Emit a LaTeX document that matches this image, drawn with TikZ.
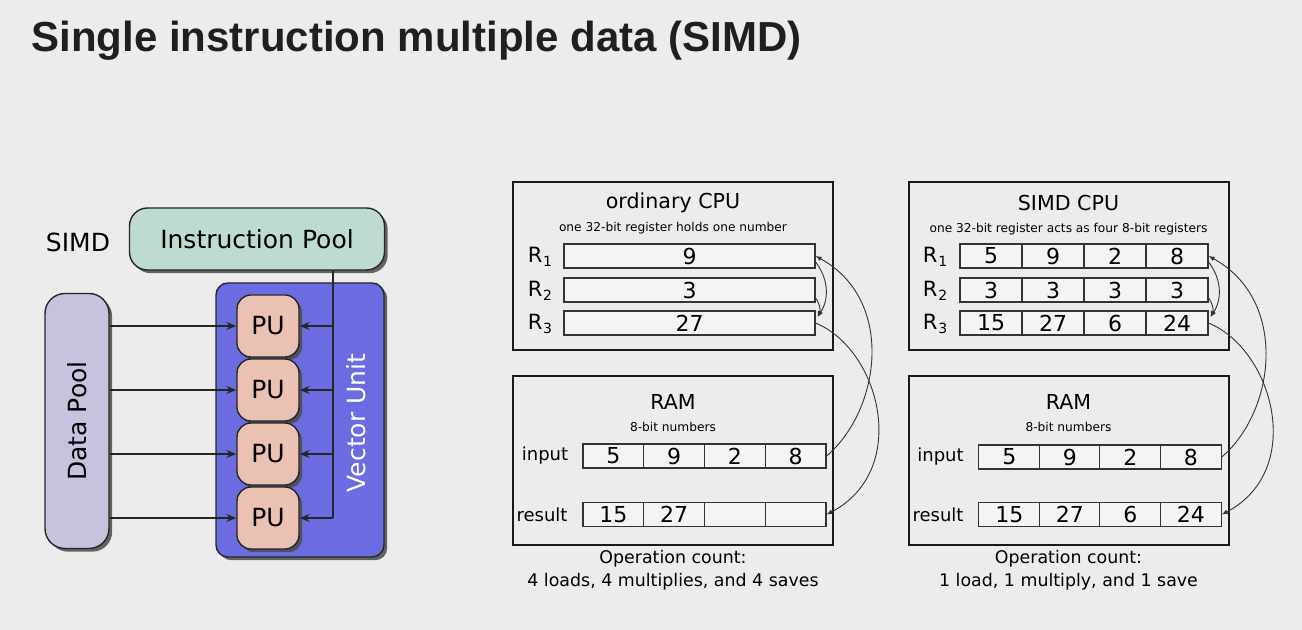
\documentclass[tikz,border=0pt]{standalone}
\usepackage{fontspec}
\setmainfont{DejaVu Sans}
\newfontfamily\headfont{Liberation Sans}
\usetikzlibrary{arrows.meta,shadows}

\definecolor{slidebg}{RGB}{236,236,236}
\definecolor{poolgreen}{RGB}{189,219,208}
\definecolor{unitblue}{RGB}{108,108,226}
\definecolor{datalilac}{RGB}{201,194,222}
\definecolor{pusalmon}{RGB}{234,193,178}

\newcommand{\regidx}[1]{\kern0.4pt\raisebox{-2.2pt}{\fontsize{7}{7}\selectfont #1}}

\tikzset{
  headline/.style={font=\headfont\bfseries\fontsize{21}{25}\selectfont, text=black!88, inner sep=0pt},
  bigtext/.style={font=\fontsize{12.5}{15}\selectfont},
  boxshadow/.style={drop shadow={shadow xshift=1.6pt, shadow yshift=-1.6pt, fill=black!70, opacity=0.85}},
  ipoolbox/.style={draw=black!85, line width=0.7pt, fill=poolgreen, rounded corners=9pt, boxshadow,
    minimum width=127.5pt, minimum height=31pt, inner sep=0pt, bigtext},
  databox/.style={draw=black!85, line width=0.7pt, fill=datalilac, rounded corners=10pt, boxshadow,
    minimum width=32pt, minimum height=127.5pt, inner sep=0pt},
  unitbox/.style={draw=black!85, line width=0.7pt, fill=unitblue, rounded corners=6pt, boxshadow,
    minimum width=84pt, minimum height=137pt, inner sep=0pt},
  pubox/.style={draw=black!85, line width=0.7pt, fill=pusalmon, rounded corners=7pt, boxshadow,
    minimum width=31pt, minimum height=31pt, inner sep=0pt, bigtext},
  wire/.style={draw=black!85, line width=0.6pt},
  dataarr/.style={-{Stealth[length=5pt,width=4pt]}},
  % right half
  cpubox/.style={draw=black!90, line width=1pt, minimum width=160pt, minimum height=84pt, inner sep=0pt},
  cputitle/.style={font=\fontsize{10.3}{12}\selectfont},
  tinytext/.style={font=\fontsize{6.1}{7}\selectfont},
  reglab/.style={font=\fontsize{10.5}{12}\selectfont},
  memlab/.style={font=\fontsize{9}{11}\selectfont},
  optext/.style={font=\fontsize{8.7}{11.5}\selectfont, align=center},
  cell/.style={draw=black!80, line width=0.6pt, fill=white!40!slidebg, minimum height=12pt,
    inner sep=0pt, font=\fontsize{11}{12}\selectfont},
  wreg/.style={cell, minimum width=125.5pt},
  scell/.style={cell, minimum width=31pt},
  mcell/.style={cell, minimum width=30.4pt},
  thinarr/.style={draw=black!80, line width=0.45pt, -{Latex[length=3pt,width=2.4pt]}},
}

\begin{document}
\begin{tikzpicture}[x=0.5pt, y=-0.5pt]

% slide background, gives the page its size
\path[use as bounding box, fill=slidebg] (0,0) rectangle (1302,630);

\node[headline, anchor=base west] (title) at (31,52) {Single instruction multiple data (SIMD)};

% ---- left: SIMD block diagram ----
\node[bigtext] (simdlab) at (78,242) {SIMD};
\node[ipoolbox] (ipool) at (257,239) {Instruction Pool};

\node[databox] (dpool) at (77,421) {};
\node[bigtext, rotate=90] (dlab) at (dpool) {Data Pool};

\node[unitbox] (vunit) at (300,420) {};
\node[bigtext, rotate=90, text=white] (vlab) at (356,423) {Vector Unit};

\node[pubox] (pu1) at (268,326) {PU};
\node[pubox] (pu2) at (268,390) {PU};
\node[pubox] (pu3) at (268,454) {PU};
\node[pubox] (pu4) at (268,518) {PU};

% instruction bus
\coordinate (busend) at (333,518);
\draw[wire] (ipool.south -| busend) -- (busend);
\draw[wire, dataarr] (pu1.east -| busend) -- (pu1.east);
\draw[wire, dataarr] (pu2.east -| busend) -- (pu2.east);
\draw[wire, dataarr] (pu3.east -| busend) -- (pu3.east);
\draw[wire, dataarr] (pu4.east -| busend) -- (pu4.east);

% data lines
\draw[wire, dataarr] (pu1.west -| dpool.east) -- (pu1.west);
\draw[wire, dataarr] (pu2.west -| dpool.east) -- (pu2.west);
\draw[wire, dataarr] (pu3.west -| dpool.east) -- (pu3.west);
\draw[wire, dataarr] (pu4.west -| dpool.east) -- (pu4.west);

% ---- ordinary CPU ----
\node[cpubox] (cpu) at (673,266) {};
\node[cputitle] (cputxt) at (673,203) {ordinary CPU};
\node[tinytext] (cpusub) at (673,228) {one 32-bit register holds one number};

\node[reglab] (r1lab) at (540,257) {R\regidx{1}};
\node[reglab] (r2lab) at (540,291) {R\regidx{2}};
\node[reglab] (r3lab) at (540,324) {R\regidx{3}};
\node[wreg] (r1) at (689.5,256) {9};
\node[wreg] (r2) at (689.5,290) {3};
\node[wreg] (r3) at (689.5,323) {27};

\draw[thinarr] ([yshift=-3pt]r1.east) to[bend left=35] ([xshift=1pt,yshift=3pt]r3.east);
\draw[thinarr] ([yshift=-4pt]r2.east) to[bend left=30] ([xshift=1pt,yshift=3pt]r3.east);

\node[cpubox, minimum height=84.5pt] (ram) at (673,460.5) {};
\node[cputitle] (ramtxt) at (673,402) {RAM};
\node[tinytext] (ramsub) at (673,427) {8-bit numbers};

\node[memlab] (inlab) at (545,456) {input};
\node[mcell] (in1) at (613.4,456) {5};
\node[mcell] (in2) at (674.1,456) {9};
\node[mcell] (in3) at (734.9,456) {2};
\node[mcell] (in4) at (795.6,456) {8};

\node[memlab] (reslab) at (542,514.5) {result};
\node[mcell] (res1) at (613.4,514.5) {15};
\node[mcell] (res2) at (674.1,514.5) {27};
\node[mcell] (res3) at (734.9,514.5) {};
\node[mcell] (res4) at (795.6,514.5) {};

\draw[thinarr] (in4.east) .. controls +(54,-46) and +(80,44) .. (r1.east);
\draw[thinarr] (r3.east) .. controls +(65,27) and +(84,-44) .. (res4.east);

\node[optext] (ops) at (673,570.5) {Operation count:\\4 loads, 4 multiplies, and 4 saves};

% ---- SIMD CPU ----
\node[cpubox] (scpu) at (1068.5,266) {};
\node[cputitle] (scputxt) at (1068.5,203) {SIMD CPU};
\node[tinytext] (scpusub) at (1068.5,229) {one 32-bit register acts as four 8-bit registers};

\node[reglab] (sr1lab) at (935,257) {R\regidx{1}};
\node[reglab] (sr2lab) at (935,291) {R\regidx{2}};
\node[reglab] (sr3lab) at (935,324) {R\regidx{3}};

\node[scell] (sr1a) at (991,256) {5};
\node[scell] (sr1b) at (1053,256) {9};
\node[scell] (sr1c) at (1115,256) {2};
\node[scell] (sr1) at (1177,256) {8};

\node[scell] (sr2a) at (991,290) {3};
\node[scell] (sr2b) at (1053,290) {3};
\node[scell] (sr2c) at (1115,290) {3};
\node[scell] (sr2) at (1177,290) {3};

\node[scell] (sr3a) at (991,323) {15};
\node[scell] (sr3b) at (1053,323) {27};
\node[scell] (sr3c) at (1115,323) {6};
\node[scell] (sr3) at (1177,323) {24};

\draw[thinarr] ([yshift=-3pt]sr1.east) to[bend left=35] ([xshift=1pt,yshift=3pt]sr3.east);
\draw[thinarr] ([yshift=-4pt]sr2.east) to[bend left=30] ([xshift=1pt,yshift=3pt]sr3.east);

\node[cpubox, minimum height=84.5pt] (sram) at (1068.5,460.5) {};
\node[cputitle] (sramtxt) at (1068.5,402) {RAM};
\node[tinytext] (sramsub) at (1068.5,427) {8-bit numbers};

\node[memlab] (sinlab) at (940.5,457) {input};
\node[mcell] (sin1) at (1009.25,457) {5};
\node[mcell] (sin2) at (1069.75,457) {9};
\node[mcell] (sin3) at (1130.25,457) {2};
\node[mcell] (sin4) at (1190.75,457) {8};

\node[memlab] (sreslab) at (938,514.5) {result};
\node[mcell] (sres1) at (1009.25,514.5) {15};
\node[mcell] (sres2) at (1069.75,514.5) {27};
\node[mcell] (sres3) at (1130.25,514.5) {6};
\node[mcell] (sres4) at (1190.75,514.5) {24};

\draw[thinarr] (sin4.east) .. controls +(54,-46) and +(80,44) .. (sr1.east);
\draw[thinarr] (sr3.east) .. controls +(65,27) and +(84,-44) .. (sres4.east);

\node[optext] (sops) at (1068.5,570.5) {Operation count:\\1 load, 1 multiply, and 1 save};

\end{tikzpicture}
\end{document}
